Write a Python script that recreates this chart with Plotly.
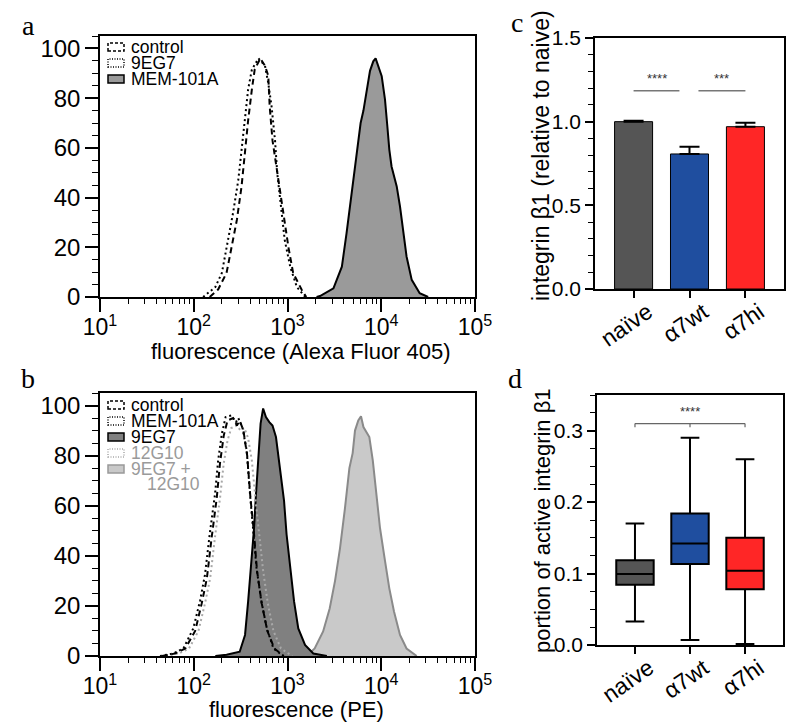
import plotly.graph_objects as go

# ---------------- data ----------------
a_control_log = [2.17, 2.26, 2.35, 2.40, 2.46, 2.51, 2.547, 2.58, 2.62, 2.65, 2.71, 2.76, 2.795, 2.81, 2.84, 2.90, 2.955, 3.01, 3.06, 3.15, 3.20]
a_control_pct = [0, 3, 9.7, 20, 31, 44.5, 59, 71, 83.5, 91.5, 96, 93, 89, 76.7, 63, 47, 34, 20, 9.7, 3, 0]
a_9eg7_log = [2.10, 2.23, 2.30, 2.37, 2.42, 2.475, 2.51, 2.547, 2.58, 2.62, 2.69, 2.76, 2.795, 2.83, 2.867, 2.89, 2.93, 2.97, 3.03, 3.10, 3.19]
a_9eg7_pct = [0, 4, 9.7, 23, 34, 47, 59, 72.7, 83.5, 91.5, 96, 93, 86, 76.7, 63, 50, 36, 23, 12, 4, 0]
a_mem_log = [3.31, 3.347, 3.49, 3.58, 3.63, 3.675, 3.71, 3.745, 3.78, 3.81, 3.845, 3.88, 3.915, 3.94, 4.005, 4.04, 4.065, 4.086, 4.11, 4.165, 4.20, 4.235, 4.27, 4.325, 4.41, 4.50]
a_mem_pct = [0, 0.4, 3.5, 12.2, 25.7, 39, 50, 60.6, 70, 75, 83, 91, 94.8, 96, 88.8, 79.4, 68.7, 59.3, 52.5, 44.5, 36.4, 25.7, 16.3, 6.9, 1.5, 0]

b_control_log = [1.66, 1.80, 1.91, 2.015, 2.085, 2.14, 2.19, 2.245, 2.28, 2.32, 2.36, 2.42, 2.46, 2.49, 2.53, 2.57, 2.605, 2.64, 2.675, 2.725, 2.785, 2.86, 2.96]
b_control_pct = [0, 1, 3, 10, 21, 31, 47, 63, 77, 88, 94, 95, 92, 94, 90, 80, 63, 50, 34, 21, 10, 3, 0]
b_mem_log = [1.64, 1.78, 1.89, 1.995, 2.067, 2.12, 2.17, 2.227, 2.26, 2.30, 2.34, 2.40, 2.45, 2.475, 2.52, 2.565, 2.60, 2.635, 2.67, 2.72, 2.78, 2.85, 2.955]
b_mem_pct = [0, 1, 3, 11, 22, 32.5, 48.6, 64.7, 78, 88.8, 95.4, 96, 93.4, 95, 91, 82, 64.7, 51, 35, 22, 11, 3, 0]
b_12g10_log = [1.70, 1.84, 1.95, 2.05, 2.12, 2.175, 2.225, 2.28, 2.32, 2.36, 2.40, 2.46, 2.50, 2.54, 2.58, 2.62, 2.66, 2.70, 2.74, 2.79, 2.85, 2.93, 3.05]
b_12g10_pct = [0, 1, 3, 10, 21, 31, 47, 63, 77, 86, 91, 92, 90, 91, 87, 78, 62, 49, 34, 21, 10, 3, 0]
b_9eg7_log = [2.23, 2.35, 2.49, 2.547, 2.58, 2.617, 2.643, 2.664, 2.69, 2.713, 2.74, 2.77, 2.806, 2.84, 2.877, 2.92, 2.963, 2.99, 3.027, 3.07, 3.115, 3.187, 3.275, 3.42]
b_9eg7_pct = [0, 0.5, 1.7, 8.4, 21.8, 38, 51, 64.7, 80.7, 92.8, 98.8, 95.4, 93.4, 92, 87.4, 75.4, 62, 48.6, 35, 21.8, 11, 4.4, 1, 0]
b_combo_log = [3.205, 3.29, 3.38, 3.45, 3.507, 3.56, 3.613, 3.66, 3.695, 3.72, 3.755, 3.784, 3.81, 3.845, 3.873, 3.91, 3.944, 3.987, 4.04, 4.086, 4.136, 4.20, 4.27, 4.378]
b_combo_pct = [0, 3, 9.8, 19, 30, 43, 59, 75, 81, 90, 94, 95.7, 91.4, 89.4, 87.4, 78, 64.7, 51, 38, 27, 17.8, 8.4, 3, 0]

groups = ["naïve", "α7wt", "α7hi"]
c_means = [1.0, 0.807, 0.97]
c_err = [0.005, 0.043, 0.024]
group_colors = ["#555555", "#1f4e9f", "#ff2626"]

d_low = [0.033, 0.007, 0.0015]
d_q1 = [0.0845, 0.1135, 0.078]
d_med = [0.0995, 0.142, 0.104]
d_q3 = [0.1185, 0.184, 0.150]
d_high = [0.170, 0.290, 0.260]

log_major = [10, 100, 1000, 10000, 100000]
log_major_text = ["10<sup>1</sup>", "10<sup>2</sup>", "10<sup>3</sup>", "10<sup>4</sup>", "10<sup>5</sup>"]

# ---------------- helpers ----------------
W, H = 799, 728
OFF = 8  # page body margin
FONT = "Liberation Sans, Arial, sans-serif"
def px(x):
    return (x - OFF) / W
def py(y):
    return 1 - (y - OFF) / H
def tolin(arr):
    return [10 ** v for v in arr]

log_minor = [m * d for d in log_major[:-1] for m in range(2, 10)]

DASH = "6px,4px"
DOT = "2px,3px"

fig = go.Figure()

fig.add_trace(go.Scatter(x=tolin(a_mem_log), y=a_mem_pct, mode="lines", fill="tozeroy",
                         fillcolor="#9a9a9a", line=dict(color="black", width=2),
                         xaxis="x", yaxis="y", showlegend=False, name="MEM-101A"))
fig.add_trace(go.Scatter(x=tolin(a_control_log), y=a_control_pct, mode="lines",
                         line=dict(color="black", width=2, dash=DASH),
                         xaxis="x", yaxis="y", showlegend=False, name="control"))
fig.add_trace(go.Scatter(x=tolin(a_9eg7_log), y=a_9eg7_pct, mode="lines",
                         line=dict(color="black", width=2, dash=DOT),
                         xaxis="x", yaxis="y", showlegend=False, name="9EG7"))

fig.add_trace(go.Scatter(x=tolin(b_combo_log), y=b_combo_pct, mode="lines", fill="tozeroy",
                         fillcolor="#c9c9c9", line=dict(color="#8a8a8a", width=2),
                         xaxis="x2", yaxis="y2", showlegend=False, name="9EG7 + 12G10"))
fig.add_trace(go.Scatter(x=tolin(b_9eg7_log), y=b_9eg7_pct, mode="lines", fill="tozeroy",
                         fillcolor="#808080", line=dict(color="black", width=2),
                         xaxis="x2", yaxis="y2", showlegend=False, name="9EG7"))
fig.add_trace(go.Scatter(x=tolin(b_12g10_log), y=b_12g10_pct, mode="lines",
                         line=dict(color="#a8a8a8", width=2, dash=DOT),
                         xaxis="x2", yaxis="y2", showlegend=False, name="12G10"))
fig.add_trace(go.Scatter(x=tolin(b_control_log), y=b_control_pct, mode="lines",
                         line=dict(color="black", width=2, dash=DASH),
                         xaxis="x2", yaxis="y2", showlegend=False, name="control"))
fig.add_trace(go.Scatter(x=tolin(b_mem_log), y=b_mem_pct, mode="lines",
                         line=dict(color="black", width=2, dash=DOT),
                         xaxis="x2", yaxis="y2", showlegend=False, name="MEM-101A"))

fig.add_trace(go.Bar(x=groups, y=c_means, marker=dict(color=group_colors, line=dict(color="black", width=1)),
                     width=0.68,
                     error_y=dict(type="data", symmetric=False, array=c_err, arrayminus=[0, 0, 0],
                                  color="black", thickness=2, width=10),
                     xaxis="x3", yaxis="y3", showlegend=False))

for i, g in enumerate(groups):
    fig.add_trace(go.Box(x=[g], q1=[d_q1[i]], median=[d_med[i]], q3=[d_q3[i]],
                         lowerfence=[d_low[i]], upperfence=[d_high[i]],
                         fillcolor=group_colors[i], line=dict(color="black", width=2),
                         width=0.68, whiskerwidth=0.5, boxpoints=False,
                         xaxis="x4", yaxis="y4", showlegend=False, name=g))

# ---------------- axes ----------------
base = dict(showgrid=False, zeroline=False, ticks="outside", tickcolor="black", automargin=False)
framed = dict(showline=True, linecolor="black", linewidth=1.5, mirror=True, tickwidth=1.5, **base)
TF = dict(family=FONT, size=24, color="black")
TFL = dict(family=FONT, size=23, color="black")
TF2 = dict(family=FONT, size=21, color="black")
TFX = dict(family=FONT, size=23, color="black")

log_x = dict(type="log", range=[1, 5], tickvals=log_major, ticktext=log_major_text, ticklen=13,
             tickfont=TFL, ticklabelstandoff=-4, **framed)
log_minor_ax = dict(type="log", range=[1, 5], tickvals=log_minor, ticklen=6, tickwidth=1,
                    showticklabels=False, showline=False, **base)
hist_y = dict(range=[0, 105], tickvals=[0, 20, 40, 60, 80, 100], ticklen=13, tickfont=TF,
              minor=dict(ticks="outside", ticklen=6, dtick=5, tickcolor="black", tickwidth=1,
                         showgrid=False), **framed)

fig.update_layout(
    xaxis=dict(domain=[px(100), px(475)], anchor="y", **log_x),
    yaxis=dict(domain=[py(297), py(36)], anchor="x", **hist_y),
    xaxis2=dict(domain=[px(100), px(475)], anchor="y2", **log_x),
    yaxis2=dict(domain=[py(656), py(393)], anchor="x2", **hist_y),
    xaxis5=dict(overlaying="x", anchor="y", side="bottom", **log_minor_ax),
    xaxis6=dict(overlaying="x2", anchor="y2", side="bottom", **log_minor_ax),
    xaxis3=dict(domain=[px(595), px(784)], anchor="y3", type="category", range=[-0.69, 2.69],
                tickangle=-35, ticklen=7, tickfont=TFX, ticklabelshift=14, ticklabelstandoff=-8, **framed),
    yaxis3=dict(domain=[py(289), py(38)], anchor="x3", range=[0, 1.5], tickvals=[0, 0.5, 1.0, 1.5],
                tickformat=".1f", ticklen=8, tickfont=TF2,
                minor=dict(ticks="outside", ticklen=5, dtick=0.1, tickcolor="black", tickwidth=1,
                           showgrid=False), **framed),
    xaxis4=dict(domain=[px(597), px(783)], anchor="y4", type="category", range=[-0.69, 2.69],
                tickangle=-35, ticklen=7, tickfont=TFX, ticklabelshift=14, ticklabelstandoff=-8, **framed),
    yaxis4=dict(domain=[py(645), py(395)], anchor="x4", range=[0, 0.35], tickvals=[0, 0.1, 0.2, 0.3],
                tickformat=".1f", ticklen=8, tickfont=TF2,
                minor=dict(ticks="outside", ticklen=5, dtick=0.025, tickcolor="black", tickwidth=1,
                           showgrid=False), **framed),
    width=W, height=H, margin=dict(l=0, r=0, t=0, b=0, pad=0, autoexpand=False),
    paper_bgcolor="white", plot_bgcolor="white",
    font=dict(family=FONT, color="black"),
)
# invisible traces to activate minor-tick overlay axes
fig.add_trace(go.Scatter(x=[10], y=[0], mode="markers", marker=dict(opacity=0), xaxis="x5", yaxis="y",
                         showlegend=False, hoverinfo="skip"))
fig.add_trace(go.Scatter(x=[10], y=[0], mode="markers", marker=dict(opacity=0), xaxis="x6", yaxis="y2",
                         showlegend=False, hoverinfo="skip"))

shapes = []
annotations = []

for letter, (lx, ly) in {"a": (28, 25), "b": (28, 378), "c": (517, 22), "d": (515, 378)}.items():
    annotations.append(dict(text=letter, x=px(lx), y=py(ly), xref="paper", yref="paper",
                            showarrow=False, xanchor="center", yanchor="middle", borderpad=0,
                            font=dict(family="Liberation Serif, Times New Roman, serif", size=28, color="black")))

annotations.append(dict(text="fluorescence (Alexa Fluor 405)", x=px(301), y=py(351), xref="paper", yref="paper",
                        showarrow=False, xanchor="center", yanchor="middle", font=dict(size=22, family=FONT)))
annotations.append(dict(text="fluorescence (PE)", x=px(296), y=py(709), xref="paper", yref="paper",
                        showarrow=False, xanchor="center", yanchor="middle", font=dict(size=22, family=FONT)))
annotations.append(dict(text="integrin β1 (relative to naive)", x=px(541), y=py(156), xref="paper", yref="paper",
                        showarrow=False, textangle=-90, xanchor="center", yanchor="middle",
                        font=dict(size=23, family=FONT)))
annotations.append(dict(text="portion of active integrin β1", x=px(542), y=py(521), xref="paper", yref="paper",
                        showarrow=False, textangle=-90, xanchor="center", yanchor="middle",
                        font=dict(size=22, family=FONT)))

def legend_entry(cy, label, line_color, dash, fill, text_color):
    shapes.append(dict(type="rect", xref="paper", yref="paper", x0=px(108), x1=px(124),
                       y0=py(cy + 4), y1=py(cy - 4), fillcolor=fill,
                       line=dict(color=line_color, width=1.5, dash=dash)))
    annotations.append(dict(text=label, x=px(130), y=py(cy), xref="paper", yref="paper",
                            showarrow=False, xanchor="left", yanchor="middle", borderpad=0,
                            font=dict(size=17.5, family=FONT, color=text_color)))

legend_entry(47, "control", "black", "3px,2px", "white", "black")
legend_entry(63, "9EG7", "black", "1px,1.5px", "white", "black")
legend_entry(79, "MEM-101A", "black", "solid", "#9a9a9a", "black")

legend_entry(405, "control", "black", "3px,2px", "white", "black")
legend_entry(421, "MEM-101A", "black", "1px,1.5px", "white", "black")
legend_entry(437, "9EG7", "black", "solid", "#808080", "black")
legend_entry(453, "12G10", "#a8a8a8", "1px,1.5px", "white", "#9a9a9a")
legend_entry(469, "9EG7 +", "#999999", "solid", "#c9c9c9", "#9a9a9a")
annotations.append(dict(text="12G10", x=px(146), y=py(484), xref="paper", yref="paper",
                        showarrow=False, xanchor="left", yanchor="middle", borderpad=0,
                        font=dict(size=17.5, family=FONT, color="#9a9a9a")))

sig_c = [(0, 0.82, "****"), (1.16, 2, "***")]
for x0, x1, s in sig_c:
    shapes.append(dict(type="line", xref="x3", yref="y3", x0=x0, x1=x1, y0=1.185, y1=1.185,
                       line=dict(color="#777777", width=1.5)))
    annotations.append(dict(text=s, x=(x0 + x1) / 2, y=1.2, xref="x3", yref="y3", showarrow=False,
                            yanchor="bottom", font=dict(size=13, family=FONT, color="#333")))

shapes.append(dict(type="line", xref="x4", yref="y4", x0=0, x1=2, y0=0.31, y1=0.31,
                   line=dict(color="#666666", width=1.2)))
for xv in [0, 1, 2]:
    shapes.append(dict(type="line", xref="x4", yref="y4", x0=xv, x1=xv, y0=0.305, y1=0.31,
                       line=dict(color="#666666", width=1.2)))
annotations.append(dict(text="****", x=1, y=0.313, xref="x4", yref="y4", showarrow=False,
                        yanchor="bottom", font=dict(size=13, family=FONT, color="#333")))

fig.update_layout(shapes=shapes, annotations=annotations)
fig.write_html("out.html")
